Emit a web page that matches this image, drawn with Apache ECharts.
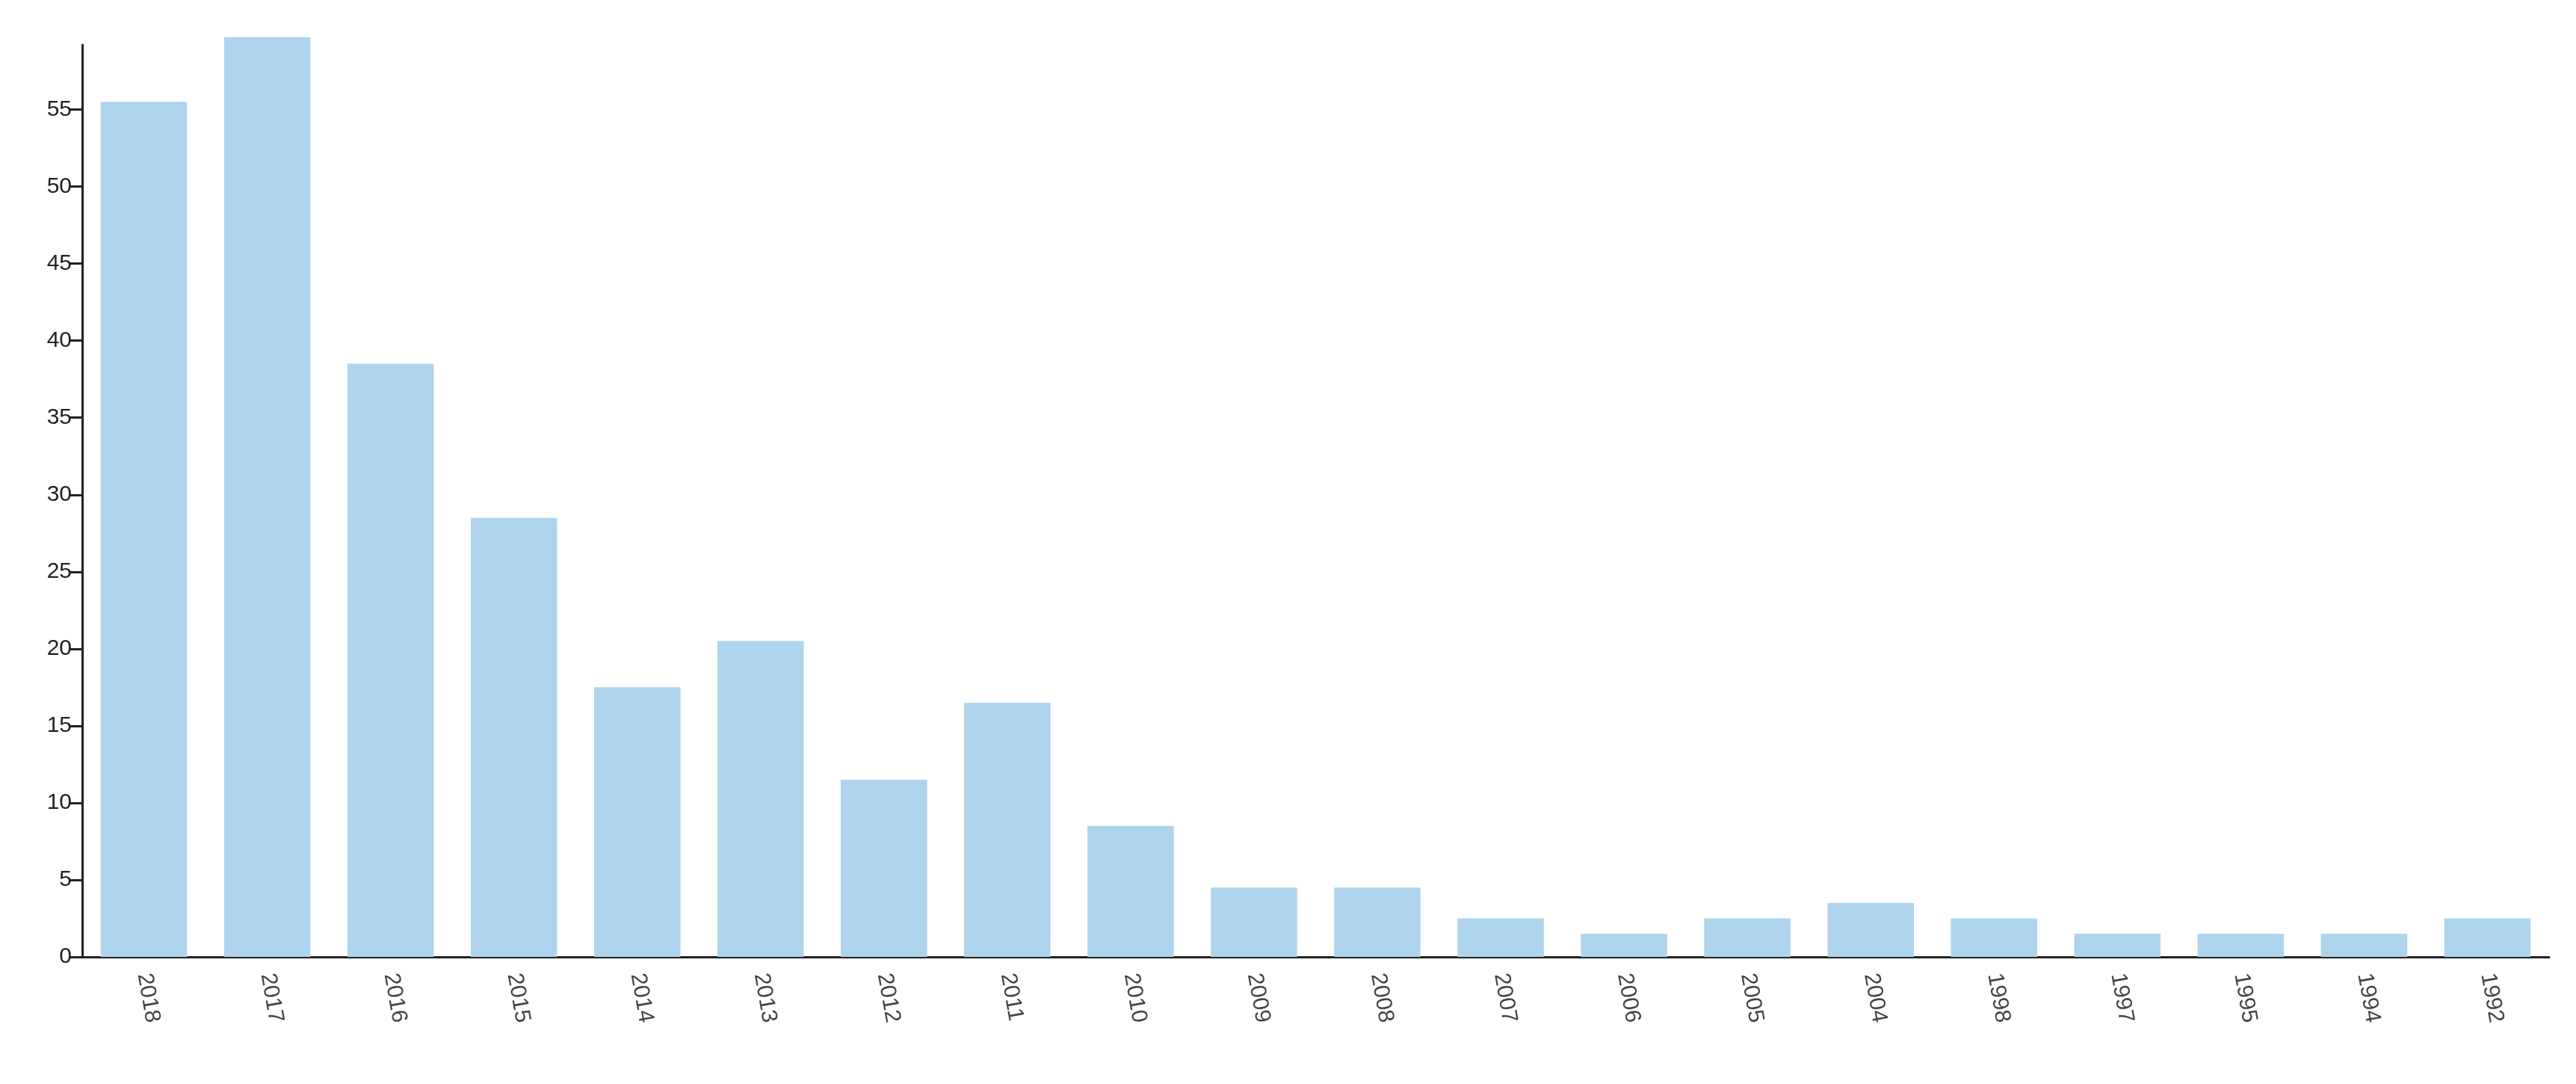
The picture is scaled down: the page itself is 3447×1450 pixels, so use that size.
<!DOCTYPE html>
<html>
<head>
<meta charset="utf-8">
<script src="https://cdn.jsdelivr.net/npm/echarts@6/dist/echarts.min.js"></script>
<style>html,body{margin:0;padding:0;background:#fff}#chart{width:3447px;height:1450px}</style>
</head>
<body>
<div id="chart"></div>
<script>
// data
var years = ['2018', '2017', '2016', '2015', '2014', '2013', '2012', '2011', '2010', '2009',
             '2008', '2007', '2006', '2005', '2004', '1998', '1997', '1995', '1994', '1992'];
var counts = [55.5, 59.7, 38.5, 28.5, 17.5, 20.5, 11.5, 16.5, 8.5, 4.5,
              4.5, 2.5, 1.5, 2.5, 3.5, 2.5, 1.5, 1.5, 1.5, 2.5];
var yMax = 59.2;
var yStep = 5;

var myChart = echarts.init(document.getElementById('chart'));
myChart.setOption({
    animation: false,
    grid: {
        top: 60,
        left: 110,
        right: 36,
        bottom: 170,
    },
    xAxis: {
        type: 'category',
        data: years,
        axisLine: {
            lineStyle: { color: '#222', width: 3 }
        },
        axisTick: {
            alignWithLabel: true,
            length: 18,
            lineStyle: { color: '#222', width: 3 }
        },
        axisLabel: {
            rotate: -80,
            margin: 22,
            color: '#444',
            fontSize: 30,
            fontFamily: 'Liberation Sans',
        },
    },
    yAxis: {
        type: 'value',
        min: 0,
        max: yMax,
        interval: yStep,
        splitLine: { show: false },
        axisLine: {
            show: true,
            lineStyle: { color: '#222', width: 3 }
        },
        axisTick: {
            show: true,
            length: 18,
            lineStyle: { color: '#222', width: 3 }
        },
        axisLabel: {
            showMaxLabel: false,
            margin: 14,
            color: '#222',
            fontSize: 30,
            fontFamily: 'Liberation Sans',
        },
    },
    series: [{
        type: 'bar',
        data: counts,
        clip: false,
        barCategoryGap: '30%',
        itemStyle: {
            color: '#afd4ed',
        },
    }],
});
</script>
</body>
</html>
